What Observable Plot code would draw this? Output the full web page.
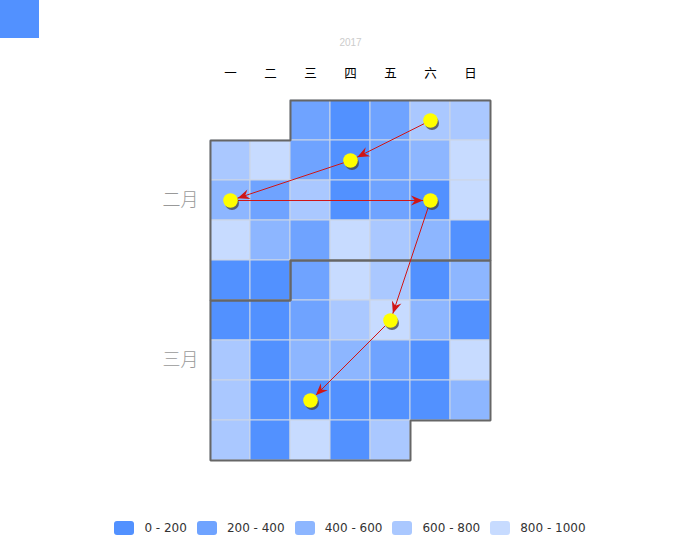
<!DOCTYPE html>
<html><head><meta charset="utf-8">
<script src="https://cdn.jsdelivr.net/npm/d3@7"></script>
<script src="https://cdn.jsdelivr.net/npm/@observablehq/plot@0.6"></script>
<style>
html,body{margin:0;padding:0;background:#fff;}
#wrap{position:relative;width:700px;height:560px;overflow:hidden;background:#fff;}
#corner{position:absolute;left:0;top:0;width:39px;height:38px;background:#5291FF;}
#chart{position:absolute;left:0;top:0;}
#legend{position:absolute;left:0;top:521px;width:700px;display:flex;justify-content:center;}
.lg-swatches{display:flex !important;justify-content:center;align-items:center;min-height:0 !important;margin:0 !important;font-family:"DejaVu Sans",sans-serif !important;font-size:12px !important;color:#333 !important;}
.lg-swatch{margin-right:10px !important;display:inline-flex !important;align-items:center;line-height:14px;}
.lg-swatch:last-child{margin-right:0 !important;}
.lg-swatch svg{margin-right:10px !important;}
.lg-swatch rect{rx:3px;ry:3px;}
</style></head>
<body>
<div id="wrap"><div id="chart"></div><div id="corner"></div><div id="legend"></div></div>
<script>
// ---- data ----
const title = "2017";
const startDate = "2017-02-01";
const values = [
  // Feb 1-5
  312, 86, 265, 731, 688,
  // Feb 6-12
  642, 874, 358, 154, 287, 517, 936,
  // Feb 13-19
  463, 241, 705, 47, 379, 172, 815,
  // Feb 20-26
  958, 586, 224, 843, 769, 431, 128,
  // Feb 27-28
  93, 61,
  // Mar 1-5
  336, 902, 657, 115, 548,
  // Mar 6-12
  39, 187, 274, 713, 861, 492, 76,
  // Mar 13-19
  624, 143, 455, 579, 302, 18, 927,
  // Mar 20-26
  745, 102, 164, 58, 131, 196, 507,
  // Mar 27-31
  683, 74, 889, 159, 792
];
const dayLabels = ["一", "二", "三", "四", "五", "六", "日"];
const monthLabels = ["二月", "三月"];
const pathDates = ["2017-02-04", "2017-02-09", "2017-02-13", "2017-02-18", "2017-03-10", "2017-03-22"];
const pieceBreaks = [200, 400, 600, 800];
const pieceLabels = ["0 - 200", "200 - 400", "400 - 600", "600 - 800", "800 - 1000"];
const pieceColors = ["#5291FF", "#6FA3FF", "#8DB6FF", "#AAC8FF", "#C7DBFF"];

// ---- derived calendar layout ----
const t0 = new Date(startDate + "T00:00:00Z");
const offset0 = (t0.getUTCDay() + 6) % 7;
const cells = values.map((v, i) => {
  const d = new Date(t0.getTime() + i * 864e5);
  const idx = i + offset0;
  return {iso: d.toISOString().slice(0, 10), month: d.getUTCMonth(), col: idx % 7, row: Math.floor(idx / 7), value: v};
});
const byIso = new Map(cells.map(c => [c.iso, c]));

const outline = [];
const monthText = [];
d3.groups(cells, c => c.month).forEach(([m, cs], k) => {
  const f = cs[0].col, r0 = cs[0].row, l = cs[cs.length - 1].col, r1 = cs[cs.length - 1].row;
  const pts = [[f, r0], [7, r0], [7, r1], [l + 1, r1], [l + 1, r1 + 1], [0, r1 + 1], [0, r0 + 1], [f, r0 + 1], [f, r0]];
  pts.forEach(([x, y]) => outline.push({month: m, x, y}));
  monthText.push({label: monthLabels[k], y: (r0 + r1 + 1) / 2});
});

const pts = pathDates.map(s => { const c = byIso.get(s); return {x: c.col + 0.5, y: c.row + 0.5}; });
const segs = d3.pairs(pts).map(([a, b]) => ({
  x1: a.x, y1: a.y, x2: b.x, y2: b.y,
  angle: Math.atan2(b.x - a.x, -(b.y - a.y)) * 180 / Math.PI
}));

const arrowHead = {
  draw(ctx) {
    const o = 7.5;
    ctx.moveTo(0, o);
    ctx.lineTo(-5, o + 12);
    ctx.lineTo(0, o + 8);
    ctx.lineTo(5, o + 12);
    ctx.closePath();
  }
};

const chart = Plot.plot({
  width: 700,
  height: 500,
  margin: 0,
  style: {background: "transparent", overflow: "visible"},
  x: {domain: [0, 7], range: [210, 490], axis: null},
  y: {domain: [0, 9], range: [100, 460], axis: null},
  color: {type: "threshold", domain: pieceBreaks, range: pieceColors},
  marks: [
    Plot.rect(cells, {x1: "col", x2: d => d.col + 1, y1: "row", y2: d => d.row + 1, fill: "value", stroke: "#cdd6e4", strokeWidth: 1}),
    Plot.line(outline, {x: "x", y: "y", z: "month", stroke: "#666", strokeWidth: 2, strokeLinejoin: "miter"}),
    Plot.text(dayLabels, {x: (d, i) => i + 0.5, y: () => 0, dy: -27, text: d => d, fontSize: 12.5, fill: "#000", fontFamily: "Noto Sans CJK SC"}),
    Plot.text(monthText, {x: () => 0, y: "y", dx: -12, textAnchor: "end", text: "label", fontSize: 18, fill: "#999", fontFamily: "Noto Sans CJK SC", fontWeight: 300}),
    Plot.text([title], {x: () => 3.5, y: () => 0, dy: -58, text: d => d, fontSize: 10, fill: "#ccc", fontFamily: "Liberation Sans"}),
    Plot.link(segs, {x1: "x1", y1: "y1", x2: "x2", y2: "y2", stroke: "#d01515", strokeWidth: 1}),
    Plot.dot(segs, {x: "x2", y: "y2", symbol: arrowHead, rotate: "angle", fill: "#d01515", stroke: "none", r: 3}),
    Plot.dot(pts, {x: "x", y: "y", r: 7, fill: "#444", fillOpacity: 0.75, dx: 1.5, dy: 2.5}),
    Plot.dot(pts, {x: "x", y: "y", r: 7.3, fill: "#ffff00", stroke: "none"})
  ]
});
document.getElementById("chart").appendChild(chart);

const legend = Plot.legend({
  color: {type: "ordinal", domain: pieceLabels, range: pieceColors},
  legend: "swatches",
  swatchWidth: 20,
  swatchHeight: 14,
  className: "lg"
});
document.getElementById("legend").appendChild(legend);
</script>
</body></html>
